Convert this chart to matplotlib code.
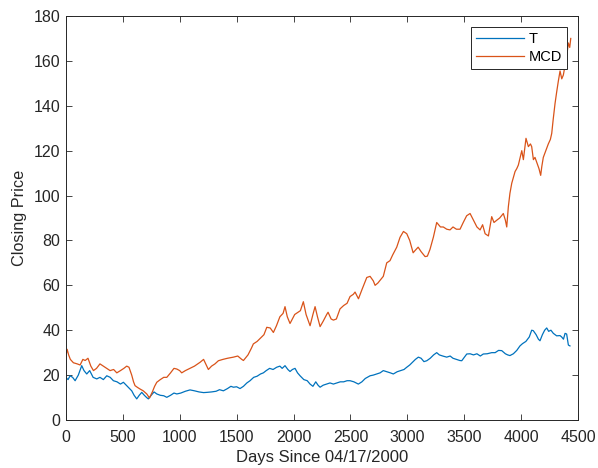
import numpy as np
import matplotlib.pyplot as plt

plt.rcParams['font.family'] = ['Liberation Sans', 'DejaVu Sans']

# --- values (day, closing price) ---
mcd_days = [0, 12, 25, 40, 67, 100, 126, 150, 170, 195, 220, 243, 270, 300, 330, 360, 389, 420,
            448, 480, 510, 535, 555, 579, 595, 608, 630, 652, 680, 711, 735, 760, 780, 799, 830,
            860, 887, 920, 950, 975, 1000, 1018, 1050, 1090, 1130, 1179, 1210, 1252, 1280, 1310,
            1340, 1380, 1420, 1472, 1510, 1545, 1560, 1600, 1630, 1647, 1680, 1710, 1740, 1765,
            1795, 1823, 1850, 1880, 1908, 1925, 1945, 1969, 1990, 2010, 2040, 2060, 2086, 2110,
            2145, 2170, 2189, 2210, 2233, 2260, 2291, 2303, 2330, 2350, 2376, 2408, 2440, 2470,
            2496, 2525, 2540, 2570, 2600, 2643, 2672, 2700, 2716, 2740, 2788, 2818, 2847, 2870,
            2906, 2935, 2965, 2994, 3020, 3050, 3067, 3094, 3120, 3155, 3175, 3198, 3228, 3257,
            3290, 3315, 3345, 3374, 3400, 3430, 3462, 3490, 3520, 3550, 3580, 3610, 3638, 3660,
            3682, 3711, 3740, 3760, 3784, 3810, 3842, 3860, 3872, 3886, 3900, 3916, 3930, 3945,
            3960, 3974, 3990, 4004, 4018, 4030, 4041, 4062, 4080, 4091, 4106, 4120, 4141, 4155,
            4170, 4180, 4193, 4215, 4237, 4255, 4267, 4280, 4296, 4310, 4325, 4340, 4355, 4369,
            4384, 4398, 4413, 4425, 4434]
mcd_price = [28, 31.5, 29, 27, 25.5, 25, 24.5, 27, 26.5, 27.5, 24, 22, 23, 25, 24, 23, 22, 22.5,
             21, 22, 23, 24, 23.5, 20, 17, 15.3, 14.5, 13.8, 13, 11.6, 9.8, 12.5, 15, 16.8, 18,
             19, 19, 21, 23, 22.7, 22, 21, 22, 23, 24, 25.7, 27, 22.5, 24, 25,
             26.4, 27, 27.5, 28, 28.5, 27, 26.5, 29, 32, 33.9, 35, 36.5, 38, 41.3,
             41, 39, 42, 46, 47.5, 50.5, 46, 43, 45, 47, 48, 48.7, 52.7, 47,
             42, 47, 50.5, 46, 41.6, 44, 47, 48, 45, 44.5, 45, 49.5, 51, 52,
             55, 56, 57, 54, 58, 63.5, 64, 62, 60, 61, 64, 70, 71, 73.5,
             77, 81.4, 84, 83, 80, 74.5, 75.5, 77, 75, 72.8, 73, 76, 81.5, 88,
             86, 86, 85, 84.7, 86, 85, 85, 88, 91, 92, 89, 86, 84.7, 87,
             83, 82, 90.6, 88, 89, 90, 92, 89, 86, 95, 101, 105.5, 108, 110.7,
             112, 113.6, 117, 120, 116, 121, 125.5, 121.8, 123, 121.8, 116, 117, 114, 112,
             109, 113, 117, 120, 123, 125, 127.7, 134, 141, 146, 151, 155.5, 152, 153.7,
             158, 162, 168, 166, 170]

t_days = [0, 20, 38, 60, 82, 110, 140, 160, 184, 210, 240, 272, 300, 330, 360, 390, 418, 450,
          480, 506, 540, 560, 579, 600, 623, 645, 667, 690, 710, 725, 750, 775, 799, 830, 860,
          887, 920, 950, 975, 1010, 1050, 1091, 1130, 1170, 1210, 1238, 1280, 1320, 1350, 1384,
          1420, 1450, 1472, 1500, 1530, 1560, 1590, 1618, 1650, 1680, 1710, 1735, 1760, 1790,
          1820, 1852, 1880, 1900, 1925, 1950, 1969, 1990, 2013, 2035, 2057, 2090, 2120, 2145,
          2170, 2195, 2215, 2233, 2260, 2290, 2320, 2350, 2380, 2410, 2440, 2470, 2496, 2530,
          2569, 2600, 2630, 2672, 2700, 2730, 2760, 2788, 2820, 2850, 2876, 2910, 2940, 2970,
          2994, 3020, 3050, 3070, 3096, 3120, 3145, 3170, 3200, 3230, 3257, 3280, 3310, 3345,
          3375, 3400, 3430, 3460, 3477, 3500, 3521, 3550, 3580, 3610, 3640, 3666, 3700, 3740,
          3770, 3800, 3828, 3860, 3880, 3900, 3930, 3960, 3988, 4010, 4040, 4070, 4091, 4105,
          4130, 4150, 4164, 4185, 4205, 4223, 4240, 4260, 4281, 4310, 4340, 4354, 4370, 4384,
          4398, 4413, 4427]
t_price = [19, 18, 19.7, 19, 17.5, 20, 24.2, 22, 20.5, 22, 19, 18.3, 19, 18, 19.7, 19, 17.5, 17,
           16, 16.8, 15, 14, 13, 11, 9.4, 11, 12.3, 11, 10, 9.4, 11, 12.5, 11.6, 11, 10.8,
           10.1, 11, 12, 11.6, 12, 12.8, 13.4, 13, 12.5, 12.2, 12.3, 12.5, 12.8, 13.5, 13,
           14, 15, 14.6, 14.8, 14, 15, 16.5, 17.5, 19, 19.5, 20.5, 21, 22, 23,
           22.5, 23.5, 24, 23, 24.2, 22.5, 21.6, 22.5, 23, 21, 19.7, 18, 17.5, 16,
           15, 17, 15.5, 14.6, 15.5, 16, 16.5, 16, 16.5, 17, 17, 17.5, 17.5, 17,
           16, 17, 18.5, 19.7, 20, 20.5, 21, 22, 21.5, 21, 20.5, 21.5, 22, 22.5,
           23.5, 24.5, 26, 27, 28, 27.5, 26, 26.4, 27.5, 29, 30, 29, 28.5, 28,
           28.5, 27.5, 27, 26.5, 26.4, 28, 29.4, 29.5, 29, 29.5, 28.5, 29.4, 29.5, 30,
           30, 31, 30.9, 29.5, 29, 28.7, 29.5, 31, 33, 34, 35, 37, 40, 39.8,
           38, 36, 35.3, 38, 40, 41, 39.5, 40, 38.6, 37.5, 37.6, 37, 36, 38.6,
           38.3, 33.4, 33]

assert len(mcd_days) == len(mcd_price) and len(t_days) == len(t_price)

fig = plt.figure(figsize=(5.98, 4.68), dpi=100)
ax = fig.add_axes([0.110, 0.1026, 0.857, 0.8632])

ax.plot(t_days, t_price, color='#0072BD', linewidth=0.9, label='T')
ax.plot(mcd_days, mcd_price, color='#D95319', linewidth=0.9, label='MCD')

ax.set_xlim(0, 4500)
ax.set_ylim(0, 180)
ax.set_xticks(np.arange(0, 4501, 500))
ax.set_yticks(np.arange(0, 181, 20))
ax.tick_params(direction='in', top=True, right=True, length=4, width=0.6,
               labelsize=11.5, colors='#262626', pad=4)
ax.tick_params(axis='x', pad=7)
for s in ax.spines.values():
    s.set_color('#262626')
    s.set_linewidth(0.7)

ax.set_xlabel('Days Since 04/17/2000', fontsize=12, color='#262626', labelpad=4)
ax.set_ylabel('Closing Price', fontsize=11.7, color='#262626', labelpad=5)

leg = ax.legend(loc='upper right', fontsize=10.5, fancybox=False, framealpha=1,
                edgecolor='#262626', handlelength=3.3, borderaxespad=0.75,
                borderpad=0.35, labelspacing=0.25, handletextpad=0.3)
leg.get_frame().set_linewidth(0.7)

fig.savefig('out.png', dpi=100, facecolor='white')
